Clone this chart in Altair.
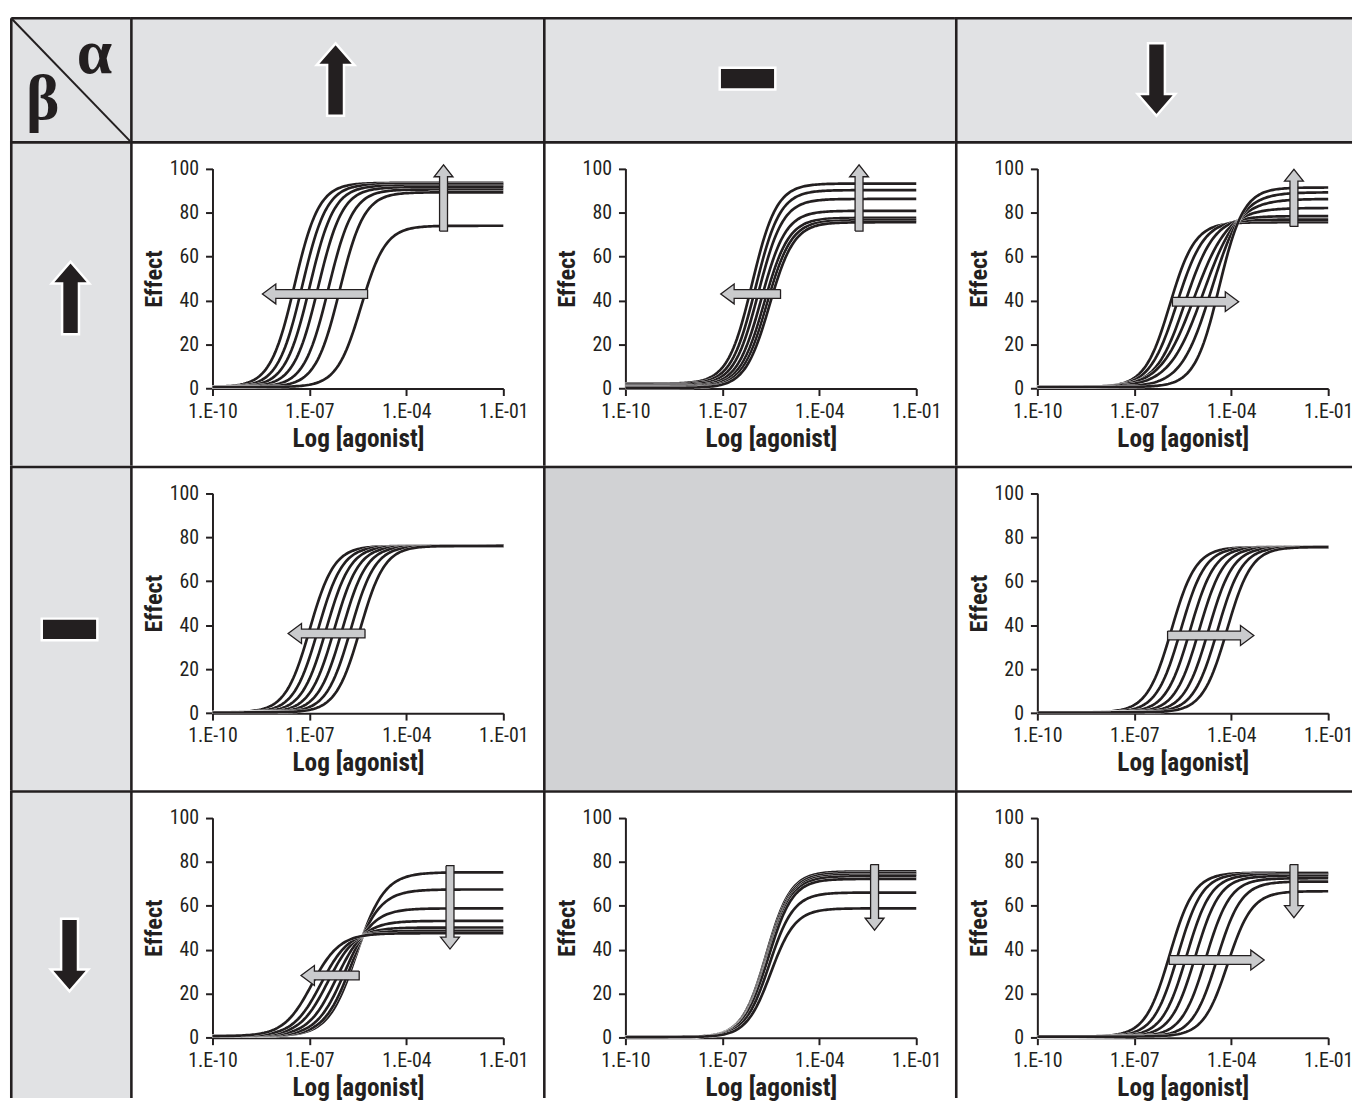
import numpy as np
import pandas as pd
import altair as alt

INK = "#231f20"
HEADER_GREY = "#e1e2e4"
EMPTY_GREY = "#d1d2d4"
ARROW_GREY = "#cacbcd"
FONT = "Liberation Sans Narrow, Arial Narrow, Roboto Condensed, DejaVu Sans Condensed, Liberation Sans"

COL_WIDTHS = [121, 416, 415, 400]
ROW_HEIGHTS = [125, 327, 327, 310]

X_TICKS = [1e-10, 1e-7, 1e-4, 1e-1]
Y_TICKS = [0, 20, 40, 60, 80, 100]
X_TITLE = "Log [agonist]"
Y_TITLE = "Effect"
ALPHA = "α"
BETA = "β"

# header symbols (alpha across the top, beta down the side)
TOP_SYMBOLS = ["up", "dash", "down"]
SIDE_SYMBOLS = ["up", "dash", "down"]

# ---- curves: plateau, log EC50, Hill slope, basal ----
A_TOP = [93.5, 93.0, 92.3, 91.5, 90.5, 89.2, 74.0]
A_LOGEC = [-7.46, -7.22, -6.99, -6.73, -6.41, -6.06, -5.40]
A_SLOPE = [1.15] * 7
A_BASE = [0.7] * 7

B_TOP = [93.2, 90.2, 86.2, 80.8, 77.6, 76.5, 75.6]
B_LOGEC = [-6.08, -5.97, -5.88, -5.79, -5.70, -5.62, -5.54]
B_SLOPE = [1.15] * 7
B_BASE = [2.2, 1.9, 1.5, 1.1, 0.8, 0.5, 0.3]

C_TOP = [75.6, 76.8, 78.4, 82.1, 86.2, 89.2, 91.4]
C_LOGEC = [-5.90, -5.68, -5.42, -5.145, -4.866, -4.614, -4.375]
C_SLOPE = [1.12, 1.03, 0.96, 0.83, 0.82, 0.92, 1.15]
C_BASE = [0.7] * 7

D_TOP = [76.0] * 7
D_LOGEC = [-6.99, -6.73, -6.48, -6.23, -5.98, -5.72, -5.43]
D_SLOPE = [1.15] * 7
D_BASE = [0.3] * 7

E_TOP = [75.5] * 7
E_LOGEC = [-5.85, -5.56, -5.27, -4.99, -4.70, -4.42, -4.13]
E_SLOPE = [1.15] * 7
E_BASE = [0.3] * 7

F_TOP = [75.2, 67.4, 58.8, 53.1, 50.1, 48.6, 47.5]
F_LOGEC = [-5.545, -5.68, -5.91, -6.17, -6.43, -6.64, -6.93]
F_SLOPE = [1.0] * 7
F_BASE = [0.7] * 7

G_TOP = [75.6, 74.9, 74.1, 73.4, 72.2, 66.0, 58.8]
G_LOGEC = [-5.64, -5.62, -5.60, -5.59, -5.58, -5.55, -5.50]
G_SLOPE = [1.15] * 7
G_BASE = [0.3] * 7

H_TOP = [75.0, 74.7, 74.2, 73.5, 72.5, 71.0, 66.6]
H_LOGEC = [-5.905, -5.65, -5.38, -5.11, -4.78, -4.44, -4.11]
H_SLOPE = [1.15] * 7
H_BASE = [0.5] * 7

PANELS = {
    "A": (A_TOP, A_LOGEC, A_SLOPE, A_BASE),
    "B": (B_TOP, B_LOGEC, B_SLOPE, B_BASE),
    "C": (C_TOP, C_LOGEC, C_SLOPE, C_BASE),
    "D": (D_TOP, D_LOGEC, D_SLOPE, D_BASE),
    "E": (E_TOP, E_LOGEC, E_SLOPE, E_BASE),
    "F": (F_TOP, F_LOGEC, F_SLOPE, F_BASE),
    "G": (G_TOP, G_LOGEC, G_SLOPE, G_BASE),
    "H": (H_TOP, H_LOGEC, H_SLOPE, H_BASE),
}
GRID = [["A", "B", "C"], ["D", "empty", "E"], ["F", "G", "H"]]

# grey arrows: horizontal (log tail, log tip, effect) and vertical (log x, effect tail, effect tip)
HARROW_PANEL = ["A", "B", "C", "D", "E", "F", "H"]
HARROW_TAIL = [-5.20, -5.20, -5.82, -5.28, -5.97, -5.46, -5.92]
HARROW_TIP = [-8.455, -7.05, -3.77, -7.66, -3.30, -7.26, -2.98]
HARROW_EFFECT = [43.0, 43.0, 39.5, 36.2, 35.3, 28.3, 35.3]

VARROW_PANEL = ["A", "B", "C", "F", "G", "H"]
VARROW_LOGX = [-2.85, -2.77, -2.06, -2.65, -2.29, -2.06]
VARROW_TAIL = [71.6, 71.6, 73.7, 78.2, 78.7, 78.7]
VARROW_TIP = [101.7, 101.7, 99.7, 40.3, 48.9, 54.6]

# plot-area placement inside a cell (pixels)
X_RANGE = [83, 376]
Y_RANGE = [249.3, 27.7]
PX_PER_DECADE = (X_RANGE[1] - X_RANGE[0]) / 9.0
PX_PER_UNIT = (Y_RANGE[0] - Y_RANGE[1]) / 100.0

LOGX = np.round(np.arange(-10, -0.999, 0.05), 3)

UP_PATH = "M0,-1L0.52,-0.4L0.233,-0.4L0.233,1L-0.233,1L-0.233,-0.4L-0.52,-0.4Z"
DOWN_PATH = "M0,1L0.52,0.4L0.233,0.4L0.233,-1L-0.233,-1L-0.233,0.4L-0.52,0.4Z"
DASH_PATH = "M-1,-0.39L1,-0.39L1,0.39L-1,0.39Z"
SYMBOL_PATH = {"up": UP_PATH, "down": DOWN_PATH, "dash": DASH_PATH}
SYMBOL_SIZE = {"up": 73 ** 2, "down": 73 ** 2, "dash": 56 ** 2}

ONE = pd.DataFrame({"k": [0]})
BW = 2.6  # border line width, drawn just inside each cell's top and left edges


def borders(w, h, r, c):
    y_start = BW / 2 if r == 0 else 0
    x_start = BW / 2 if c == 0 else 0
    left = alt.Chart(ONE).mark_rule(color=INK, strokeWidth=BW).encode(
        x=alt.value(BW / 2), y=alt.value(y_start), y2=alt.value(h))
    top = alt.Chart(ONE).mark_rule(color=INK, strokeWidth=BW).encode(
        y=alt.value(BW / 2), x=alt.value(x_start), x2=alt.value(w))
    return [left, top]


def curve_df(top, logec, n, base):
    y = base + (top - base) / (1 + 10 ** (n * (logec - LOGX)))
    return pd.DataFrame({"x": 10 ** LOGX, "y": y})


def harrow_df(tail, tip, eff):
    d = 1 if tip > tail else -1
    hs = 4.4 / PX_PER_UNIT
    hh = 10.0 / PX_PER_UNIT
    hl = 13.5 / PX_PER_DECADE
    neck = tip - d * hl
    pts = [(tail, eff + hs), (neck, eff + hs), (neck, eff + hh), (tip, eff),
           (neck, eff - hh), (neck, eff - hs), (tail, eff - hs), (tail, eff + hs)]
    return pd.DataFrame({"x": [10 ** p[0] for p in pts], "y": [p[1] for p in pts],
                         "i": list(range(len(pts)))})


def varrow_df(lx, tail, tip):
    d = 1 if tip > tail else -1
    ws = 4.0 / PX_PER_DECADE
    wh = 9.5 / PX_PER_DECADE
    hl = 12.0 / PX_PER_UNIT
    neck = tip - d * hl
    pts = [(lx - ws, tail), (lx - ws, neck), (lx - wh, neck), (lx, tip),
           (lx + wh, neck), (lx + ws, neck), (lx + ws, tail), (lx - ws, tail)]
    return pd.DataFrame({"x": [10 ** p[0] for p in pts], "y": [p[1] for p in pts],
                         "i": list(range(len(pts)))})


def plot_cell(key, w, h, r, c):
    xs = alt.Scale(type="log", domain=[1e-10, 1e-1], range=X_RANGE, nice=False)
    ys = alt.Scale(domain=[0, 100], range=Y_RANGE, nice=False, zero=False)
    common = dict(domainColor=INK, domainWidth=2, tickColor=INK, tickWidth=2, tickSize=7,
                  labelColor=INK, labelFont=FONT, labelFontSize=20, titleColor=INK,
                  titleFont=FONT, titleFontWeight="bold", grid=False, labelOverlap=False)
    xa = alt.Axis(values=X_TICKS, title=X_TITLE, titleFontSize=25.5, labelPadding=6,
                  titlePadding=5, offset=-(h - Y_RANGE[0]), labelFlush=False,
                  labelExpr="'1.E-' + format(-round(log(datum.value) / LN10), '02d')",
                  **common)
    ya = alt.Axis(values=Y_TICKS, title=Y_TITLE, titleFontSize=24.5, labelPadding=7,
                  titlePadding=3, offset=-X_RANGE[0], **common)
    layers = []
    tops, logecs, slopes, bases = PANELS[key]
    for top, lec, n, base in zip(tops, logecs, slopes, bases):
        df = curve_df(top, lec, n, base)
        enc = dict(x=alt.X("x:Q", scale=xs, axis=xa), y=alt.Y("y:Q", scale=ys, axis=ya))
        layers.append(alt.Chart(df).mark_line(color="white", strokeWidth=3.2).encode(**enc))
        layers.append(alt.Chart(df).mark_line(color=INK, strokeWidth=2.7).encode(**enc))
    arrow_dfs = []
    for p, t0, t1, e in zip(HARROW_PANEL, HARROW_TAIL, HARROW_TIP, HARROW_EFFECT):
        if p == key:
            arrow_dfs.append(harrow_df(t0, t1, e))
    for p, lx, e0, e1 in zip(VARROW_PANEL, VARROW_LOGX, VARROW_TAIL, VARROW_TIP):
        if p == key:
            arrow_dfs.append(varrow_df(lx, e0, e1))
    for adf in arrow_dfs:
        layers.append(alt.Chart(adf).mark_line(fill=ARROW_GREY, stroke=INK, strokeWidth=1.3,
                                               strokeJoin="miter").encode(
            x=alt.X("x:Q", scale=xs, axis=xa), y=alt.Y("y:Q", scale=ys, axis=ya),
            order="i:Q"))
    layers += borders(w, h, r, c)
    return alt.layer(*layers).properties(width=w, height=h,
                                         view=alt.ViewBackground(fill="white", strokeWidth=0))


def blank_cell(w, h, fill, r, c, extra=None):
    layers = list(extra or [])
    layers += borders(w, h, r, c)
    return alt.layer(*layers).properties(width=w, height=h,
                                         view=alt.ViewBackground(fill=fill, strokeWidth=0))


def symbol(name, cx, cy):
    return alt.Chart(ONE).mark_point(shape=SYMBOL_PATH[name], size=SYMBOL_SIZE[name], filled=True,
                                     fill=INK, stroke="white", strokeWidth=2.5, opacity=1).encode(
        x=alt.value(cx), y=alt.value(cy))


cells = []
# corner cell
cw, ch = COL_WIDTHS[0], ROW_HEIGHTS[0]
corner_extra = [
    alt.Chart(ONE).mark_rule(color=INK, strokeWidth=2).encode(
        x=alt.value(1.5), y=alt.value(1.5), x2=alt.value(cw), y2=alt.value(ch)),
    alt.Chart(ONE).mark_text(text=ALPHA, font="Liberation Serif", fontSize=64, fontWeight="bold",
                             color=INK, align="center", baseline="alphabetic").encode(
        x=alt.value(85), y=alt.value(56)),
    alt.Chart(ONE).mark_text(text=BETA, font="Liberation Serif", fontSize=64, fontWeight="bold",
                             color=INK, align="center", baseline="alphabetic").encode(
        x=alt.value(33), y=alt.value(103)),
]
cells.append(blank_cell(cw, ch, HEADER_GREY, 0, 0, corner_extra))
top_centers = [(207, 63), (206, 62), (203, 63)]
for j, name in enumerate(TOP_SYMBOLS):
    cx, cy = top_centers[j]
    cells.append(blank_cell(COL_WIDTHS[j + 1], ch, HEADER_GREY, 0, j + 1, [symbol(name, cx, cy)]))

side_centers = [(61, 158), (60, 165), (60, 166)]
for i, name in enumerate(SIDE_SYMBOLS):
    r = i + 1
    h = ROW_HEIGHTS[r]
    cx, cy = side_centers[i]
    cells.append(blank_cell(COL_WIDTHS[0], h, HEADER_GREY, r, 0, [symbol(name, cx, cy)]))
    for j, key in enumerate(GRID[i]):
        c = j + 1
        w = COL_WIDTHS[c]
        if key == "empty":
            cells.append(blank_cell(w, h, EMPTY_GREY, r, c))
        else:
            cells.append(plot_cell(key, w, h, r, c))

chart = alt.concat(*cells, columns=4, spacing=0, bounds="flush", align="each").properties(
    padding={"left": 2, "top": 5, "right": 0, "bottom": 0},
    background="white",
).configure_view(strokeWidth=0)

chart.save("out.html", embed_options={"renderer": "svg", "actions": False})
